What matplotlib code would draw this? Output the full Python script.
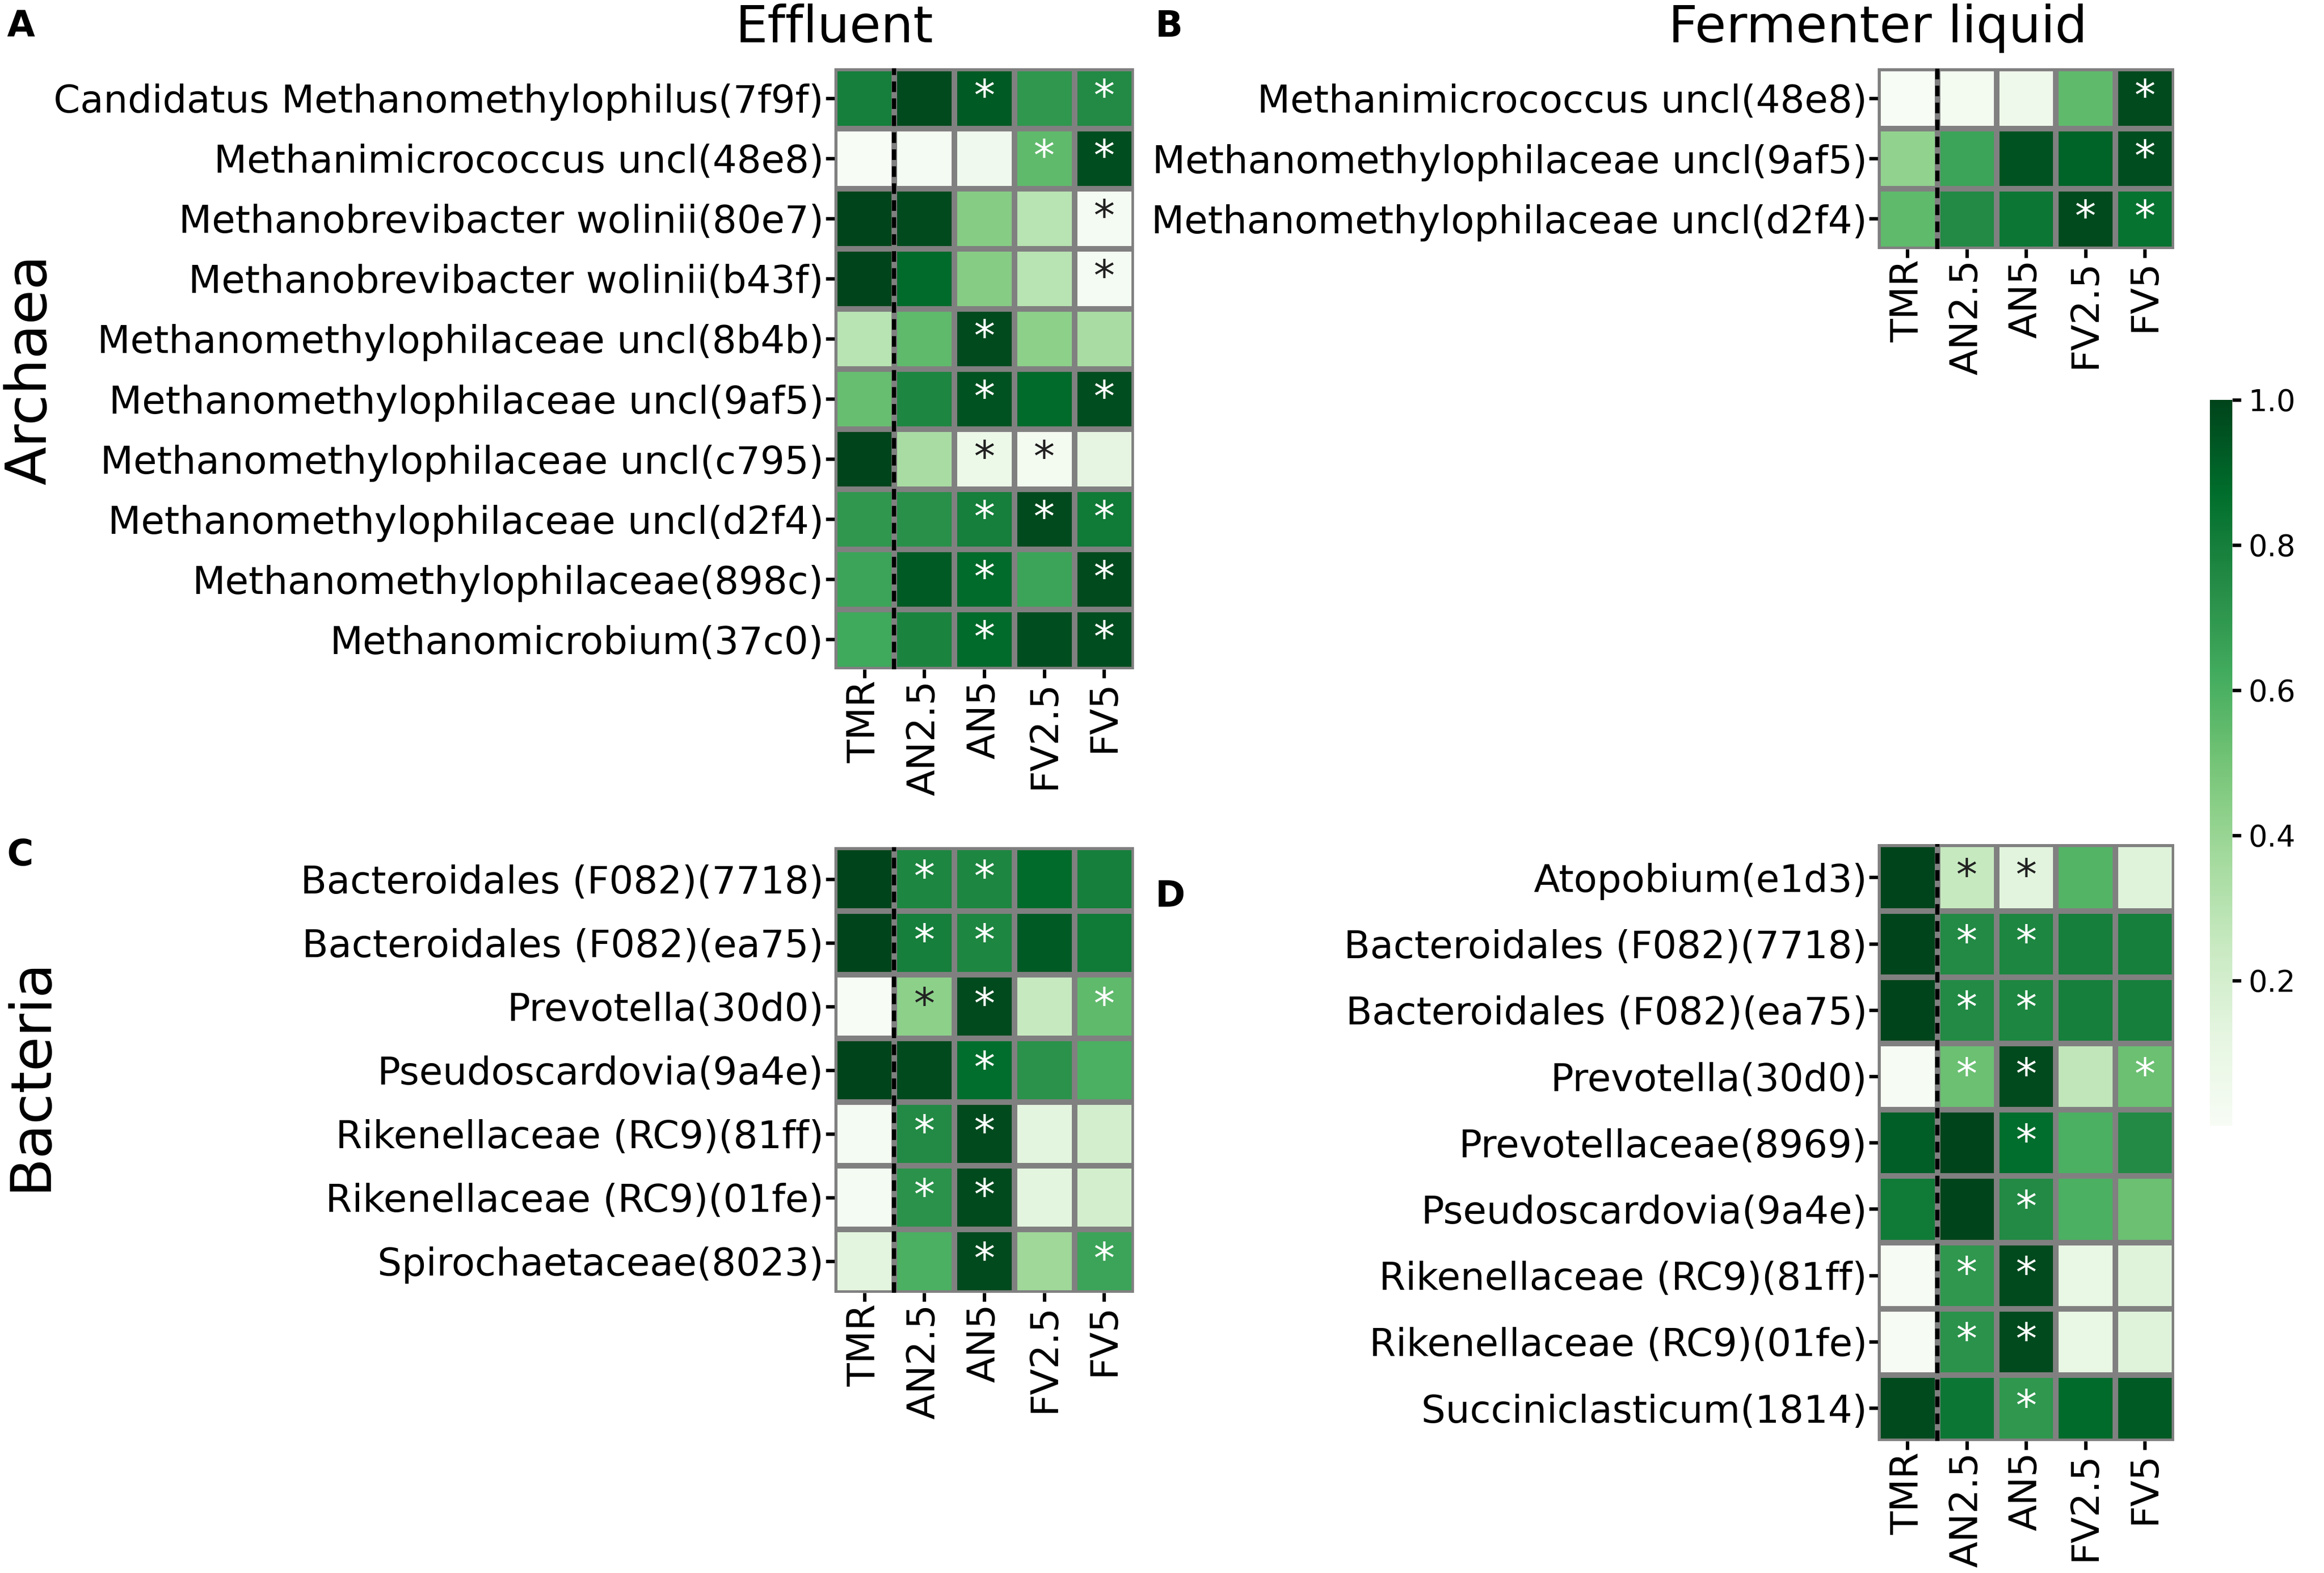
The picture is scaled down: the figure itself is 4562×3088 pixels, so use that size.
import numpy as np
import matplotlib
matplotlib.use('Agg')
import matplotlib.pyplot as plt

# data (scaled abundance, 0..1)
groups = ["TMR", "AN2.5", "AN5", "FV2.5", "FV5"]

taxa_a = ["Candidatus Methanomethylophilus(7f9f)", "Methanimicrococcus uncl(48e8)",
          "Methanobrevibacter wolinii(80e7)", "Methanobrevibacter wolinii(b43f)",
          "Methanomethylophilaceae uncl(8b4b)", "Methanomethylophilaceae uncl(9af5)",
          "Methanomethylophilaceae uncl(c795)", "Methanomethylophilaceae uncl(d2f4)",
          "Methanomethylophilaceae(898c)", "Methanomicrobium(37c0)"]
vals_a = [[0.80, 0.98, 0.93, 0.70, 0.75],
          [0.00, 0.02, 0.05, 0.55, 0.97],
          [1.00, 0.98, 0.45, 0.30, 0.02],
          [1.00, 0.88, 0.45, 0.30, 0.02],
          [0.30, 0.55, 0.98, 0.43, 0.35],
          [0.53, 0.77, 0.95, 0.88, 0.97],
          [1.00, 0.35, 0.08, 0.03, 0.12],
          [0.70, 0.73, 0.80, 0.98, 0.82],
          [0.65, 0.93, 0.88, 0.65, 0.98],
          [0.63, 0.78, 0.88, 0.97, 0.97]]
sig_a = [[0, 0, 1, 0, 1],
         [0, 0, 0, 1, 1],
         [0, 0, 0, 0, 1],
         [0, 0, 0, 0, 1],
         [0, 0, 1, 0, 0],
         [0, 0, 1, 0, 1],
         [0, 0, 1, 1, 0],
         [0, 0, 1, 1, 1],
         [0, 0, 1, 0, 1],
         [0, 0, 1, 0, 1]]

taxa_b = ["Methanimicrococcus uncl(48e8)", "Methanomethylophilaceae uncl(9af5)",
          "Methanomethylophilaceae uncl(d2f4)"]
vals_b = [[0.00, 0.03, 0.06, 0.55, 0.98],
          [0.42, 0.65, 0.95, 0.90, 0.97],
          [0.55, 0.75, 0.83, 0.98, 0.85]]
sig_b = [[0, 0, 0, 0, 1],
         [0, 0, 0, 0, 1],
         [0, 0, 0, 1, 1]]

taxa_c = ["Bacteroidales (F082)(7718)", "Bacteroidales (F082)(ea75)", "Prevotella(30d0)",
          "Pseudoscardovia(9a4e)", "Rikenellaceae (RC9)(81ff)", "Rikenellaceae (RC9)(01fe)",
          "Spirochaetaceae(8023)"]
vals_c = [[1.00, 0.77, 0.77, 0.88, 0.80],
          [1.00, 0.80, 0.77, 0.93, 0.82],
          [0.00, 0.43, 0.98, 0.25, 0.55],
          [1.00, 0.98, 0.87, 0.72, 0.60],
          [0.02, 0.75, 0.98, 0.13, 0.20],
          [0.02, 0.72, 0.98, 0.13, 0.20],
          [0.13, 0.60, 0.98, 0.38, 0.65]]
sig_c = [[0, 1, 1, 0, 0],
         [0, 1, 1, 0, 0],
         [0, 1, 1, 0, 1],
         [0, 0, 1, 0, 0],
         [0, 1, 1, 0, 0],
         [0, 1, 1, 0, 0],
         [0, 0, 1, 0, 1]]

taxa_d = ["Atopobium(e1d3)", "Bacteroidales (F082)(7718)", "Bacteroidales (F082)(ea75)",
          "Prevotella(30d0)", "Prevotellaceae(8969)", "Pseudoscardovia(9a4e)",
          "Rikenellaceae (RC9)(81ff)", "Rikenellaceae (RC9)(01fe)", "Succiniclasticum(1814)"]
vals_d = [[1.00, 0.25, 0.14, 0.58, 0.15],
          [1.00, 0.75, 0.77, 0.80, 0.80],
          [1.00, 0.75, 0.77, 0.80, 0.80],
          [0.01, 0.52, 0.98, 0.27, 0.52],
          [0.92, 1.00, 0.87, 0.60, 0.75],
          [0.82, 1.00, 0.75, 0.60, 0.52],
          [0.01, 0.70, 0.98, 0.10, 0.15],
          [0.01, 0.72, 0.98, 0.10, 0.15],
          [0.98, 0.83, 0.70, 0.88, 0.93]]
sig_d = [[0, 1, 1, 0, 0],
         [0, 1, 1, 0, 0],
         [0, 1, 1, 0, 0],
         [0, 1, 1, 0, 1],
         [0, 0, 1, 0, 0],
         [0, 0, 1, 0, 0],
         [0, 1, 1, 0, 0],
         [0, 1, 1, 0, 0],
         [0, 0, 1, 0, 0]]


def heat(ax, vals, sig, taxa):
    v = np.array(vals)
    m = ax.pcolormesh(v, cmap='Greens', vmin=0, vmax=1, edgecolors='gray', linewidth=2.2)
    ax.set_xlim(0, v.shape[1])
    ax.set_ylim(v.shape[0], 0)
    ax.axvline(1, color='black', ls=(0, (2.5, 1.5)), lw=2)
    for i in range(v.shape[0]):
        for j in range(v.shape[1]):
            if sig[i][j]:
                c = 'white' if v[i, j] > 0.48 else '#222222'
                ax.text(j + 0.5, i + 0.5, "*", ha='center', va='center', fontsize=20, color=c)
    ax.set_xticks(np.arange(v.shape[1]) + 0.5)
    ax.set_xticklabels(groups, rotation=90, fontsize=18)
    ax.set_yticks(np.arange(v.shape[0]) + 0.5)
    ax.set_yticklabels(taxa, fontsize=18)
    ax.tick_params(length=4, width=1.6, pad=1)
    for s in ax.spines.values():
        s.set_visible(False)
    return m


fig = plt.figure(figsize=(4562 / 300, 3088 / 300), dpi=300)

ax_a = fig.add_axes([0.359, 0.5744, 0.129, 0.3823])
ax_b = fig.add_axes([0.808, 0.8418, 0.1276, 0.1149])
ax_c = fig.add_axes([0.359, 0.178, 0.129, 0.2834])
ax_d = fig.add_axes([0.808, 0.0838, 0.1276, 0.3795])

m = heat(ax_a, vals_a, sig_a, taxa_a)
heat(ax_b, vals_b, sig_b, taxa_b)
heat(ax_c, vals_c, sig_c, taxa_c)
heat(ax_d, vals_d, sig_d, taxa_d)

cax = fig.add_axes([0.951, 0.2844, 0.0096, 0.4614])
cb = fig.colorbar(m, cax=cax, ticks=[0.2, 0.4, 0.6, 0.8, 1.0])
cb.outline.set_visible(False)
cb.ax.tick_params(labelsize=14, length=4, width=1.6)

fig.text(0.359, 0.982, "Effluent", ha='center', va='center', fontsize=24)
fig.text(0.808, 0.982, "Fermenter liquid", ha='center', va='center', fontsize=24)
fig.text(0.013, 0.765, "Archaea", rotation=90, ha='center', va='center', fontsize=26.5)
fig.text(0.013, 0.317, "Bacteria", rotation=90, ha='center', va='center', fontsize=26.5)

fig.text(0.003, 0.983, "A", fontsize=17, fontweight='bold', va='center')
fig.text(0.497, 0.983, "B", fontsize=17, fontweight='bold', va='center')
fig.text(0.003, 0.456, "C", fontsize=17, fontweight='bold', va='center')
fig.text(0.497, 0.430, "D", fontsize=17, fontweight='bold', va='center')

plt.savefig("out.png", dpi=300)
